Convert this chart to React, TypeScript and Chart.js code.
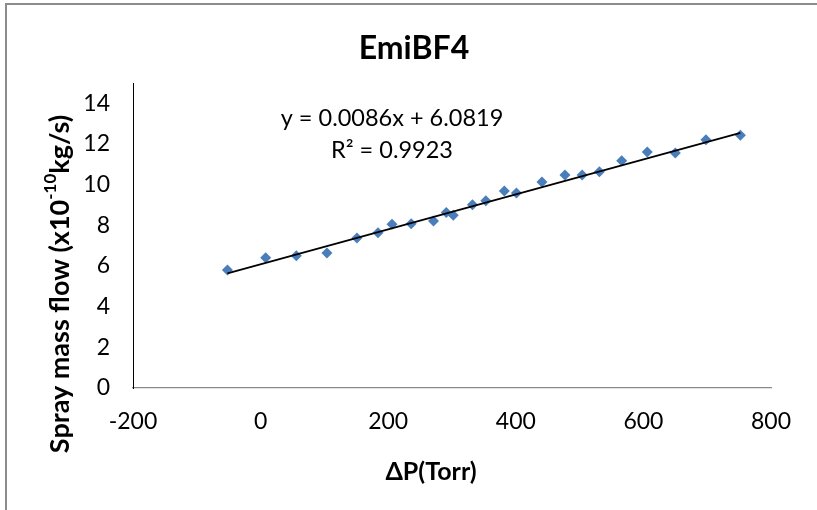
import React, { useEffect, useRef } from "react";
import { Chart, registerables } from "chart.js";

Chart.register(...registerables);

// ---- data ----
const CHART_TITLE = "EmiBF4";
const X_TITLE = "ΔP(Torr)";
const Y_TITLE_PARTS = ["Spray mass flow (x10", "-10", "kg/s)"];
const pressureTorr = [-52, 8, 56, 104, 151, 184, 206, 236, 271, 291, 302, 332, 353, 382, 401, 441, 477, 504, 531, 566, 606, 650, 698, 752];
const massFlow = [5.8, 6.41, 6.51, 6.64, 7.38, 7.64, 8.05, 8.08, 8.21, 8.63, 8.49, 9.01, 9.21, 9.69, 9.59, 10.13, 10.48, 10.48, 10.64, 11.18, 11.61, 11.56, 12.21, 12.43];
const trendSlope = 0.0086;
const trendIntercept = 6.0819;
const equationText = "y = 0.0086x + 6.0819";
const r2Text = "R² = 0.9923";
const xTickValues = [-200, 0, 200, 400, 600, 800];
const yTickValues = [0, 2, 4, 6, 8, 10, 12, 14];
const yAxisMax = 15;

const FONT = "Lato, 'Open Sans', sans-serif";

const textPlugin = {
  id: "customTexts",
  afterDraw(chart: any) {
    const ctx = chart.ctx as CanvasRenderingContext2D;
    ctx.save();
    ctx.fillStyle = "#000";
    ctx.textAlign = "center";
    ctx.textBaseline = "middle";

    // Title
    ctx.font = `bold 32px ${FONT}`;
    ctx.fillText(CHART_TITLE, 414, 49);

    // Trendline equation
    ctx.font = `23.5px ${FONT}`;
    ctx.fillText(equationText, 392, 118);
    ctx.fillText(r2Text, 392, 150);

    // X axis title
    ctx.font = `bold 25px ${FONT}`;
    ctx.fillText(X_TITLE, 431, 472);

    // Y axis title with superscript
    const fonts = [`bold 27px ${FONT}`, `bold 17px ${FONT}`, `bold 27px ${FONT}`];
    const offs = [0, -9, 0];
    let total = 0;
    const widths = Y_TITLE_PARTS.map((t, i) => {
      ctx.font = fonts[i];
      const w = ctx.measureText(t).width;
      total += w;
      return w;
    });
    ctx.translate(60, 284);
    ctx.rotate(-Math.PI / 2);
    ctx.textAlign = "left";
    let x = -total / 2;
    Y_TITLE_PARTS.forEach((t, i) => {
      ctx.font = fonts[i];
      ctx.fillText(t, x, offs[i]);
      x += widths[i];
    });
    ctx.restore();
  },
};

export default function App() {
  const canvasRef = useRef<HTMLCanvasElement | null>(null);

  useEffect(() => {
    const canvas = canvasRef.current;
    if (!canvas) return;
    const xMin = Math.min(...pressureTorr);
    const xMax = Math.max(...pressureTorr);
    const chart = new Chart(canvas, {
      type: "scatter",
      data: {
        datasets: [
          {
            type: "line",
            label: "Trend",
            data: [
              { x: xMin, y: trendSlope * xMin + trendIntercept },
              { x: xMax, y: trendSlope * xMax + trendIntercept },
            ],
            borderColor: "#000",
            borderWidth: 1.8,
            pointRadius: 0,
            fill: false,
            order: 0,
          } as any,
          {
            label: "EmiBF4",
            data: pressureTorr.map((p, i) => ({ x: p, y: massFlow[i] })),
            pointStyle: "rectRot",
            pointRadius: 5.5,
            backgroundColor: "#4a7ebb",
            borderColor: "#4a7ebb",
            borderWidth: 0,
            order: 1,
          },
        ],
      },
      options: {
        animation: false,
        responsive: false,
        devicePixelRatio: 1,
        layout: { padding: { left: 0, top: 83, right: 46, bottom: 0 } },
        plugins: {
          legend: { display: false },
          title: { display: false },
          tooltip: { enabled: false },
        },
        scales: {
          x: {
            type: "linear",
            min: -200,
            max: 800,
            grid: { display: false, drawTicks: false },
            border: { display: true, color: "#8a8a8a", width: 1.2 },
            afterBuildTicks: (s: any) => {
              s.ticks = xTickValues.map((v) => ({ value: v }));
            },
            afterFit: (s: any) => {
              s.height = 122;
            },
            ticks: {
              padding: 20,
              color: "#000",
              font: { family: FONT, size: 23 },
              maxRotation: 0,
            },
          },
          y: {
            type: "linear",
            min: 0,
            max: yAxisMax,
            grid: { display: false, drawTicks: false },
            border: { display: true, color: "#000", width: 1 },
            afterBuildTicks: (s: any) => {
              s.ticks = yTickValues.map((v) => ({ value: v }));
            },
            afterFit: (s: any) => {
              s.width = 133;
            },
            ticks: {
              padding: 23,
              color: "#000",
              font: { family: FONT, size: 23 },
            },
          },
        },
      },
      plugins: [textPlugin],
    } as any);
    return () => chart.destroy();
  }, []);

  return (
    <div
      style={{
        position: "fixed",
        left: 0,
        top: 0,
        width: 817,
        height: 510,
        background: "#fff",
        overflow: "hidden",
      }}
    >
      <canvas
        ref={canvasRef}
        width={817}
        height={510}
        style={{ position: "absolute", left: 0, top: 0, width: 817, height: 510 }}
      />
      <div
        style={{
          position: "absolute",
          left: 5,
          top: 3,
          width: 840,
          height: 540,
          borderLeft: "2px solid #8c8c8c",
          borderTop: "2px solid #8c8c8c",
          pointerEvents: "none",
        }}
      />
    </div>
  );
}
